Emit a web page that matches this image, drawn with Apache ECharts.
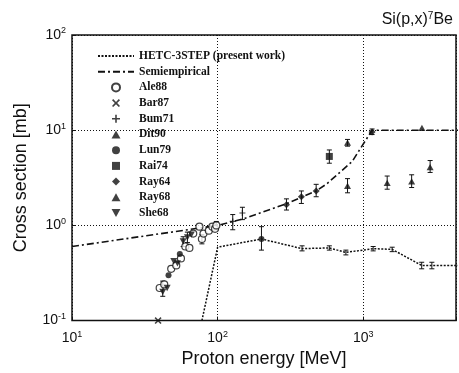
<!DOCTYPE html>
<html>
<head>
<meta charset="utf-8">
<script src="https://cdn.jsdelivr.net/npm/echarts@6/dist/echarts.min.js"></script>
<style>
  html, body { margin: 0; padding: 0; background: #fff; }
  #chart { width: 459px; height: 373px; }
</style>
</head>
<body>
<div id="chart"></div>
<script>
// energies in MeV, cross sections in mb
const hetc = [[78, 0.1], [100, 0.59], [200, 0.72], [380, 0.57], [585, 0.58], [760, 0.52],
  [1170, 0.57], [1580, 0.56], [2520, 0.38], [2960, 0.38], [5000, 0.38]];
const hetcErr = [[380, 0.54, 0.61], [585, 0.55, 0.61], [760, 0.49, 0.55], [1170, 0.54, 0.6],
  [1580, 0.53, 0.59], [2520, 0.35, 0.41], [2960, 0.35, 0.41]];
const semiEmp = [[10, 0.6], [100, 1.0], [150, 1.17], [300, 1.7], [475, 2.3], [565, 2.75],
  [840, 4.7], [1150, 10], [5000, 10]];

const ale88 = [[40, 0.22], [43, 0.24], [48, 0.35], [52, 0.38], [56, 0.45], [60, 0.6],
  [64, 0.58], [68, 0.82], [75, 0.97], [78, 0.72], [80, 0.82], [87, 0.88], [92, 0.97],
  [96, 0.92], [98, 1.0]];
const bar87 = [[39, 0.1]];
const bum71 = [[127, 1.1], [148, 1.35]];
const dit90 = [[780, 7.4], [2530, 10.6]];
const lun79 = [[200, 0.72], [46, 0.3], [55, 0.5]];
const rai74 = [[585, 5.3]];
const ray64 = [[297, 1.65], [376, 2.0], [475, 2.3], [1150, 9.6]];
const ray68 = [[780, 2.6], [1460, 2.8], [2150, 2.9], [2880, 4.1]];
const she68 = [[42, 0.2], [45, 0.22], [50, 0.42], [53, 0.4], [58, 0.68], [62, 0.75], [66, 0.8]];

const dataErr = [[127, 0.9, 1.3], [148, 1.15, 1.55], [200, 0.55, 0.97], [297, 1.45, 1.9],
  [376, 1.7, 2.3], [475, 2.0, 2.7], [585, 4.5, 6.2], [780, 2.2, 3.1], [780, 6.8, 8.0],
  [1150, 9.0, 10.3], [1460, 2.4, 3.3], [2150, 2.5, 3.4], [2880, 3.6, 4.8],
  [42, 0.18, 0.26], [58, 0.6, 0.76], [62, 0.66, 0.85], [78, 0.64, 0.8], [98, 0.9, 1.1]];

const legendNames = ['HETC-3STEP (present work)', 'Semiempirical', 'Ale88', 'Bar87', 'Bum71',
  'Dit90', 'Lun79', 'Rai74', 'Ray64', 'Ray68', 'She68'];

const ink = '#111';
// path symbols keep their aspect in the legend
const crossPath = 'path://M0,1.5L1.5,0L5,3.5L8.5,0L10,1.5L6.5,5L10,8.5L8.5,10L5,6.5L1.5,10L0,8.5L3.5,5Z';
const plusPath = 'path://M4,0H6V4H10V6H6V10H4V6H0V4H4Z';
const downTri = 'path://M0,0L10,0L5,9Z';
const upTri = 'path://M5,0L10,9L0,9Z';
const square = 'path://M0,0H10V10H0Z';
const diamond = 'path://M5,0L10,5L5,10L0,5Z';

function supLabel(v) {
  const p = Math.round(Math.log10(v));
  if (Math.abs(Math.log10(v) - p) > 1e-6) return '';
  return '10{s|' + (p < 0 ? '-' + (-p) : p) + '}';
}

function errRender(params, api) {
  const x = api.value(0);
  const lo = api.coord([x, api.value(1)]);
  const hi = api.coord([x, api.value(2)]);
  const w = 2.5;
  const st = { stroke: ink, lineWidth: 1 };
  return {
    type: 'group',
    children: [
      { type: 'line', shape: { x1: lo[0], y1: lo[1], x2: hi[0], y2: hi[1] }, style: st },
      { type: 'line', shape: { x1: lo[0] - w, y1: lo[1], x2: lo[0] + w, y2: lo[1] }, style: st },
      { type: 'line', shape: { x1: hi[0] - w, y1: hi[1], x2: hi[0] + w, y2: hi[1] }, style: st }
    ]
  };
}

function scatter(name, data, symbol, size, open) {
  return {
    name: name, type: 'scatter', data: data, symbol: symbol, symbolSize: size,
    symbolKeepAspect: true,
    itemStyle: open ? { color: '#fff', borderColor: ink, borderWidth: 1.2 } : { color: ink },
    z: 4
  };
}

const chart = echarts.init(document.getElementById('chart'), null, { renderer: 'canvas' });

const axisFont = { fontFamily: 'Liberation Sans', fontSize: 14, color: ink };
const rich = { s: { fontFamily: 'Liberation Sans', fontSize: 9, color: ink, padding: [0, 0, 8, 0] } };

const option = {
  backgroundColor: '#fff',
  animation: false,
  title: {
    text: 'Si(p,x){s|7}Be',
    right: 1, top: 6,
    textStyle: {
      fontFamily: 'Liberation Sans', fontSize: 16, fontWeight: 'normal', color: ink,
      rich: { s: { fontFamily: 'Liberation Sans', fontSize: 10, color: ink, padding: [0, 0, 8, 0] } }
    }
  },
  legend: {
    data: legendNames,
    orient: 'vertical',
    left: 97, top: 50, padding: 0,
    itemWidth: 36, itemHeight: 8, itemGap: 3.7,
    symbolKeepAspect: true,
    textStyle: { fontFamily: 'Liberation Serif', fontWeight: 'bold', fontSize: 11.5, lineHeight: 10, color: ink }
  },
  grid: {
    left: 72, right: 2, top: 35, bottom: 50,
    show: true, borderColor: ink, borderWidth: 1.5, backgroundColor: 'transparent'
  },
  xAxis: {
    type: 'log', logBase: 10, min: 10, max: 4335,
    name: 'Proton energy [MeV]', nameLocation: 'middle', nameGap: 26,
    nameTextStyle: { fontFamily: 'Liberation Sans', fontSize: 18, color: ink },
    axisLine: { show: false },
    axisTick: { inside: true, length: 4, lineStyle: { color: ink } },
    axisLabel: { ...axisFont, margin: 9, formatter: supLabel, rich: rich },
    splitLine: { show: true, lineStyle: { color: ink, type: [1, 2], width: 1 } }
  },
  yAxis: {
    type: 'log', logBase: 10, min: 0.1, max: 100,
    name: 'Cross section [mb]', nameLocation: 'middle', nameGap: 42,
    nameTextStyle: { fontFamily: 'Liberation Sans', fontSize: 18, color: ink },
    axisLine: { show: false },
    axisTick: { inside: true, length: 4, lineStyle: { color: ink } },
    axisLabel: { ...axisFont, margin: 6, formatter: supLabel, rich: rich },
    splitLine: { show: true, lineStyle: { color: ink, type: [1, 2], width: 1 } }
  },
  series: [
    {
      name: 'HETC-3STEP (present work)', type: 'line', data: hetc, symbol: 'none',
      itemStyle: { color: 'rgba(0,0,0,0)' },
      lineStyle: { color: ink, width: 1.5, type: [2, 1.5] }, z: 3
    },
    {
      name: 'Semiempirical', type: 'line', data: semiEmp, symbol: 'none',
      itemStyle: { color: 'rgba(0,0,0,0)' },
      lineStyle: { color: ink, width: 1.6, type: [7, 3, 2, 3] }, z: 3
    },
    scatter('Ale88', ale88, 'circle', 7, true),
    scatter('Bar87', bar87, crossPath, 7, false),
    scatter('Bum71', bum71, plusPath, 6, false),
    scatter('Dit90', dit90, upTri, 7, false),
    scatter('Lun79', lun79, 'circle', 6, false),
    scatter('Rai74', rai74, square, 7, false),
    scatter('Ray64', ray64, diamond, 7, false),
    scatter('Ray68', ray68, upTri, 7, false),
    scatter('She68', she68, downTri, 7, false),
    { name: 'errData', type: 'custom', data: dataErr, renderItem: errRender, z: 3 },
    { name: 'errHetc', type: 'custom', data: hetcErr, renderItem: errRender, z: 3 }
  ]
};

chart.setOption(option);
</script>
</body>
</html>
